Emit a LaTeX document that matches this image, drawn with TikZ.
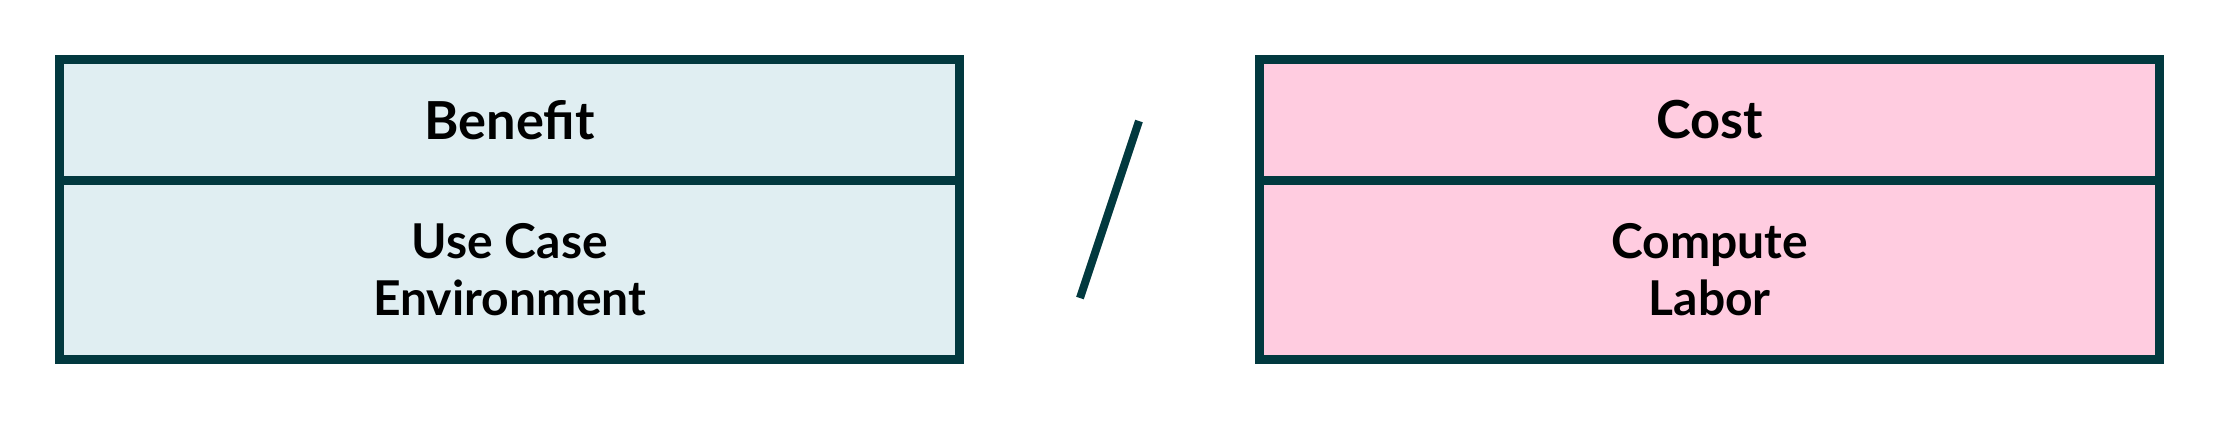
\documentclass[tikz,border=0pt]{standalone}
\usepackage{fontspec}
\setmainfont{Lato}
\usepackage{tikz}
\usetikzlibrary{positioning}
\definecolor{frameteal}{RGB}{2,57,63}
\definecolor{benefitfill}{RGB}{224,238,242}
\definecolor{costfill}{RGB}{255,204,224}

\begin{document}
\begin{tikzpicture}[x=0.25pt,y=0.25pt]
	\tikzset{every node/.style={inner sep=0pt, outer sep=0pt},
		cell/.style={draw=frameteal, line width=2.25pt, rectangle, minimum width=225pt, align=center, font=\bfseries},
		titlecell/.style={cell, minimum height=30.125pt, font=\fontsize{13.1}{15}\selectfont\bfseries},
		bodycell/.style={cell, minimum height=44.875pt, font=\fontsize{12}{14.25}\selectfont\bfseries}}
	\useasboundingbox (0,0) rectangle (2220,-420);
	% benefit side
	\node [titlecell, fill=benefitfill] (benefit) at (509.75,-119.75) {Benefit};
	\node [bodycell, fill=benefitfill, below=0pt of benefit] (benefitbody) {Use Case\\Environment};
	% cost side
	\node [titlecell, fill=costfill] (cost) at (1709.75,-119.75) {Cost};
	\node [bodycell, fill=costfill, below=0pt of cost] (costbody) {Compute\\Labor};
	% the slash between them
	\coordinate (slashtop) at (1139,-121);
	\coordinate (slashbottom) at (1080,-298);
	\draw [frameteal, line width=2pt] (slashtop) -- (slashbottom);
\end{tikzpicture}
\end{document}
